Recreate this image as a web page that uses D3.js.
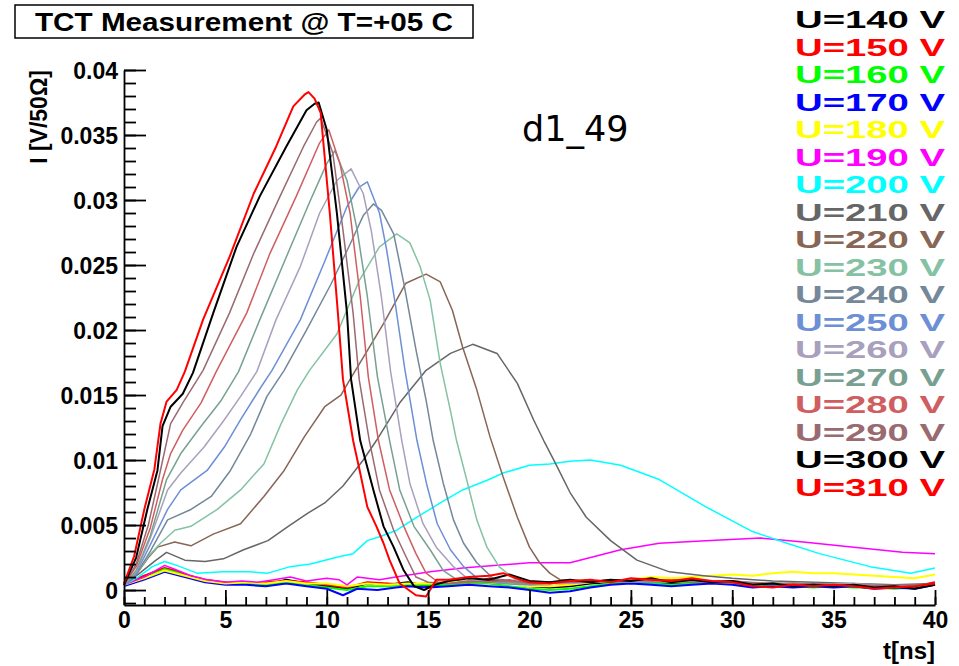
<!DOCTYPE html>
<html>
<head>
<meta charset="utf-8">
<title>TCT Measurement</title>
<script src="https://d3js.org/d3.v7.min.js"></script>
<style>
body { margin: 0; background: #fff; }
svg text { font-family: "Liberation Sans", Arial, sans-serif; font-weight: bold; }
.tick text { font-size: 23px; }
</style>
</head>
<body>
<svg id="chart" width="959" height="666"></svg>
<script>
// voltage scan, one waveform per bias voltage
const voltages = [140, 150, 160, 170, 180, 190, 200, 210, 220, 230, 240, 250, 260, 270, 280, 290, 300, 310];
const colors = ["#000000", "#ff0000", "#00ff00", "#0000ff", "#ffff00", "#ff00ff", "#00ffff", "#666666", "#876656",
  "#85c2a3", "#74889a", "#6d8fd6", "#a9a0bd", "#78a091", "#cf5e61", "#9a6a71", "#000000", "#ff0000"];

// [t (ns), I (V/50 Ohm)]
const u140 = [[0,0.0004],[0.5,0.0007],[1,0.0010],[1.5,0.0014],[2,0.0016],[2.5,0.0014],[3,0.0011],[3.5,0.0009],[4,0.0007],[5,0.0005],[6,0.0006],[7,0.0004],[8,0.0008],[9,0.0005],[10,0.0003],[11,0.0001],[12,0.0005],[13,0.0004],[14,0.0006],[15,0.0003],[16,0.0005],[17,0.0006],[18,0.0008],[19,0.0006],[20,0.0003],[21,0.0002],[22,0.0003],[23,0.0005],[24,0.0006],[25,0.0007],[26,0.0006],[27,0.0005],[28,0.0006],[29,0.0007],[30,0.0006],[31,0.0004],[32,0.0005],[33,0.0004],[34,0.0003],[35,0.0004],[36,0.0003],[37,0.0002],[38,0.0003],[39,0.0002],[40,0.0005]];
const u150 = [[0,0.0005],[1,0.0011],[2,0.0017],[2.5,0.0015],[3,0.0012],[4,0.0008],[5,0.0006],[6,0.0005],[7,0.0006],[8,0.0007],[9,0.0006],[10,0.0004],[11,0.0002],[12,0.0006],[13,0.0005],[14,0.0004],[15,0.0005],[16,0.0006],[17,0.0005],[18,0.0009],[19,0.0007],[20,0.0004],[21,0.0003],[22,0.0004],[23,0.0006],[24,0.0007],[25,0.0006],[26,0.0007],[27,0.0008],[28,0.0006],[29,0.0006],[30,0.0007],[31,0.0005],[32,0.0004],[33,0.0005],[34,0.0004],[35,0.0003],[36,0.0004],[37,0.0003],[38,0.0002],[39,0.0003],[40,0.0006]];
const u160 = [[0,0.0004],[1,0.0009],[2,0.0016],[2.5,0.0014],[3,0.0011],[4,0.0007],[5,0.0005],[6,0.0005],[7,0.0004],[8,0.0006],[9,0.0004],[10,0.0002],[11,0.0000],[12,0.0003],[13,0.0003],[14,0.0004],[15,0.0004],[16,0.0004],[17,0.0005],[18,0.0005],[19,0.0003],[20,0.0001],[21,0.0000],[22,0.0001],[23,0.0003],[24,0.0005],[25,0.0006],[26,0.0005],[27,0.0004],[28,0.0005],[29,0.0006],[30,0.0005],[31,0.0003],[32,0.0003],[33,0.0003],[34,0.0002],[35,0.0003],[36,0.0002],[37,0.0002],[38,0.0001],[39,0.0002],[40,0.0004]];
const u170 = [[0,0.0003],[1,0.0008],[2,0.0014],[3,0.0010],[4,0.0006],[5,0.0004],[6,0.0004],[7,0.0003],[8,0.0005],[9,0.0003],[10,0.0001],[10.8,-0.0004],[11.5,0.0001],[12.5,0.0000],[13.4,0.0002],[14,0.0003],[15,0.0002],[16,0.0003],[17,0.0004],[18,0.0003],[19,0.0002],[20,0.0000],[21,-0.0002],[22,-0.0001],[23,0.0002],[24,0.0004],[25,0.0005],[26,0.0004],[27,0.0003],[28,0.0004],[29,0.0005],[30,0.0004],[31,0.0002],[32,0.0003],[33,0.0002],[34,0.0003],[35,0.0002],[36,0.0003],[37,0.0001],[38,0.0002],[39,0.0001],[40,0.0004]];
const u180 = [[0,0.0004],[1,0.0009],[2,0.0015],[3,0.0011],[4,0.0007],[5,0.0005],[6,0.0006],[7,0.0005],[8,0.0007],[9,0.0005],[10,0.0005],[11,0.0003],[12,0.0005],[13,0.0004],[14,0.0005],[15,0.0005],[16,0.0006],[17,0.0007],[18,0.0006],[19,0.0005],[20,0.0003],[21,0.0003],[22,0.0004],[23,0.0006],[24,0.0007],[25,0.0008],[26,0.0010],[27,0.0009],[28,0.0010],[29,0.0011],[30,0.0012],[31,0.0011],[32,0.0013],[33,0.0014],[34,0.0013],[35,0.0013],[36,0.0012],[37,0.0011],[38,0.0010],[39,0.0009],[40,0.0012]];
const u190 = [[0,0.0004],[1,0.0010],[2,0.0019],[2.5,0.0016],[3.3,0.0011],[4.1,0.0008],[5,0.0006],[5.8,0.0007],[6.6,0.0006],[7.4,0.0008],[8.2,0.0010],[9,0.0007],[10,0.0009],[10.6,0.0008],[11,0.0004],[11.5,0.0010],[12.6,0.0008],[13.4,0.0010],[15.1,0.0014],[16.7,0.0017],[18.4,0.0019],[20,0.0021],[22,0.0021],[24.5,0.0031],[26.4,0.0036],[28.7,0.0038],[31.4,0.0040],[33.5,0.0037],[36,0.0033],[38.4,0.0029],[40,0.0028]];
const u200 = [[0,0.0004],[0.7,0.0010],[1.4,0.0018],[2,0.0022],[2.6,0.0019],[3.6,0.0013],[4.9,0.0014],[6.2,0.0014],[7.1,0.0013],[8.2,0.0018],[9.2,0.0020],[10.2,0.0024],[10.7,0.0026],[11.3,0.0028],[12,0.0038],[12.6,0.0041],[13.45,0.0046],[14.45,0.0056],[15.6,0.0067],[16.7,0.0077],[18,0.0085],[18.7,0.0090],[20,0.0096],[21,0.0097],[22,0.0099],[23,0.0100],[24.5,0.0096],[26.4,0.0085],[28.7,0.0064],[31,0.0045],[32.7,0.0036],[34.3,0.0028],[36.8,0.0018],[38.8,0.0013],[40,0.0017]];
const u210 = [[0,0.0004],[0.7,0.0012],[1.5,0.0022],[2.1,0.0029],[3,0.0023],[4,0.0022],[4.9,0.0024],[5.9,0.0031],[7.1,0.0038],[8.1,0.0049],[9.05,0.0059],[9.9,0.0067],[10.8,0.0080],[11.15,0.0087],[11.8,0.0100],[12.45,0.0115],[13.6,0.0144],[14.9,0.0169],[16.1,0.0182],[17.2,0.0189],[18.4,0.0182],[19.4,0.0159],[20.2,0.0131],[20.7,0.0115],[21.2,0.0100],[22,0.0075],[22.8,0.0056],[24,0.0038],[25.3,0.0023],[26.9,0.0014],[28.6,0.0011],[30,0.0009],[32,0.0007],[34,0.0006],[36,0.0005],[38,0.0004],[40,0.0005]];
const u220 = [[0,0.0004],[0.6,0.0012],[1.2,0.0025],[1.65,0.0033],[2.5,0.0037],[3.3,0.0034],[4.4,0.0043],[5.75,0.0051],[6.9,0.0072],[7.9,0.0092],[8.9,0.0118],[9.9,0.0141],[10.7,0.0150],[11.15,0.0162],[12.8,0.0205],[13.9,0.0236],[14.9,0.0243],[15.6,0.0237],[16.2,0.0215],[16.7,0.0187],[17.4,0.0154],[18.05,0.0118],[18.7,0.0087],[19.4,0.0056],[20,0.0033],[20.5,0.0021],[21,0.0013],[21.5,0.0008],[23,0.0006],[25,0.0007],[27,0.0006],[29,0.0007],[31,0.0005],[33,0.0005],[35,0.0004],[37,0.0003],[40,0.0004]];
const u230 = [[0,0.0004],[0.6,0.0012],[1.2,0.0026],[1.8,0.0036],[2.5,0.0046],[3.3,0.0049],[4.6,0.0062],[5.75,0.0077],[6.9,0.0097],[7.75,0.0128],[8.55,0.0154],[9.15,0.0169],[10.5,0.0197],[11.6,0.0238],[12.6,0.0264],[13.45,0.0274],[14.1,0.0267],[14.6,0.0249],[15.1,0.0223],[15.6,0.0174],[16.1,0.0138],[16.4,0.0115],[16.9,0.0085],[17.4,0.0054],[17.9,0.0033],[18.5,0.0018],[19.3,0.0008],[21,0.0005],[23,0.0006],[25,0.0007],[27,0.0006],[29,0.0007],[31,0.0005],[33,0.0004],[35,0.0004],[37,0.0003],[40,0.0004]];
const u240 = [[0,0.0004],[0.6,0.0012],[1.3,0.0030],[2.15,0.0054],[3.3,0.0062],[4.3,0.0072],[5.25,0.0092],[6.25,0.0120],[7.05,0.0149],[7.9,0.0169],[9,0.0200],[10.2,0.0235],[11.15,0.0266],[11.8,0.0288],[12.3,0.0297],[12.7,0.0292],[13.3,0.0274],[13.8,0.0236],[14.4,0.0185],[14.9,0.0146],[15.25,0.0115],[15.75,0.0082],[16.25,0.0054],[16.75,0.0036],[17.4,0.0021],[18.2,0.0009],[19.5,0.0005],[21,0.0006],[23,0.0007],[25,0.0006],[27,0.0007],[29,0.0006],[31,0.0005],[33,0.0005],[35,0.0004],[37,0.0003],[40,0.0004]];
const u250 = [[0,0.0004],[0.6,0.0013],[1.3,0.0035],[2.15,0.0062],[2.8,0.0077],[4.1,0.0092],[4.95,0.0110],[5.75,0.0131],[6.75,0.0156],[7.3,0.0169],[8.7,0.0208],[9.85,0.0251],[11,0.0295],[11.6,0.0310],[12,0.0314],[12.6,0.0290],[12.95,0.0262],[13.4,0.0218],[13.85,0.0170],[14.45,0.0115],[14.95,0.0080],[15.45,0.0051],[16.1,0.0031],[16.75,0.0018],[17.5,0.0008],[18.5,0.0005],[20,0.0004],[22,0.0006],[24,0.0007],[26,0.0006],[28,0.0007],[30,0.0006],[32,0.0004],[34,0.0005],[36,0.0004],[38,0.0003],[40,0.0004]];
const u260 = [[0,0.0004],[0.6,0.0014],[1.3,0.0040],[2.15,0.0077],[2.8,0.0090],[3.95,0.0110],[4.95,0.0131],[5.75,0.0149],[6.55,0.0168],[7.5,0.0208],[8.7,0.0249],[9.65,0.0290],[10.5,0.0315],[11.2,0.0324],[11.8,0.0305],[12.2,0.0276],[12.7,0.0225],[13.15,0.0168],[13.7,0.0115],[14.1,0.0082],[14.75,0.0051],[15.4,0.0033],[16.25,0.0018],[17,0.0008],[18,0.0006],[20,0.0006],[22,0.0005],[24,0.0007],[26,0.0007],[28,0.0006],[30,0.0007],[32,0.0005],[34,0.0004],[36,0.0005],[38,0.0003],[40,0.0004]];
const u270 = [[0,0.0004],[0.6,0.0015],[1.3,0.0042],[2.1,0.0085],[2.8,0.0105],[3.8,0.0126],[4.8,0.0146],[5.65,0.0168],[6.7,0.0208],[8,0.0256],[9.2,0.0300],[10,0.0328],[10.4,0.0338],[11,0.0315],[11.5,0.0277],[12,0.0226],[12.5,0.0164],[13.1,0.0115],[13.6,0.0077],[14.3,0.0049],[15.1,0.0031],[15.75,0.0015],[16.5,0.0007],[18,0.0006],[20,0.0005],[22,0.0007],[24,0.0006],[26,0.0008],[28,0.0007],[30,0.0006],[32,0.0005],[34,0.0005],[36,0.0004],[38,0.0003],[40,0.0004]];
const u280 = [[0,0.0004],[0.6,0.0018],[1.3,0.0048],[1.9,0.0085],[2.3,0.0105],[2.9,0.0123],[3.8,0.0144],[4.55,0.0168],[6.05,0.0213],[7.2,0.0259],[8.5,0.0303],[9.65,0.0344],[10.1,0.0354],[10.65,0.0328],[11.15,0.0290],[11.65,0.0226],[12.05,0.0164],[12.55,0.0115],[13.1,0.0077],[13.8,0.0049],[14.4,0.0028],[14.9,0.0013],[15.5,0.0006],[16,0.0005],[18,0.0007],[20,0.0006],[22,0.0006],[24,0.0008],[26,0.0007],[28,0.0008],[30,0.0006],[32,0.0005],[34,0.0004],[36,0.0004],[38,0.0003],[40,0.0004]];
const u290 = [[0,0.0004],[0.6,0.0020],[1.2,0.0050],[1.7,0.0085],[2.3,0.0128],[2.9,0.0144],[3.9,0.0169],[5.2,0.0213],[6.4,0.0259],[7.7,0.0303],[8.85,0.0341],[9.5,0.0360],[9.7,0.0363],[10.3,0.0336],[10.8,0.0277],[11.3,0.0213],[11.6,0.0162],[12.1,0.0115],[12.6,0.0077],[13.3,0.0046],[13.9,0.0026],[14.4,0.0010],[15,0.0006],[16,0.0005],[17,0.0007],[18,0.0006],[19,0.0008],[20,0.0005],[22,0.0006],[24,0.0007],[26,0.0008],[28,0.0006],[30,0.0007],[32,0.0004],[34,0.0005],[36,0.0003],[38,0.0004],[40,0.0004]];
const u300 = [[0,0.0004],[0.6,0.0025],[1.15,0.0062],[1.65,0.0092],[1.9,0.0126],[2.3,0.0141],[2.9,0.0151],[3.4,0.0167],[4.4,0.0213],[5.55,0.0264],[6.7,0.0303],[8,0.0341],[9,0.0369],[9.4,0.0374],[9.6,0.0375],[10,0.0354],[10.5,0.0290],[11,0.0213],[11.2,0.0162],[11.65,0.0115],[12.3,0.0077],[12.8,0.0049],[13.3,0.0033],[13.8,0.0015],[14.3,0.0003],[14.8,0.0000],[15.3,0.0004],[16,0.0007],[17,0.0009],[18,0.0008],[19,0.0012],[20,0.0007],[21,0.0006],[22,0.0008],[23,0.0006],[24,0.0008],[25,0.0007],[26,0.0009],[27,0.0006],[28,0.0008],[29,0.0006],[30,0.0007],[31,0.0004],[32,0.0005],[33,0.0003],[34,0.0004],[35,0.0003],[36,0.0004],[37,0.0002],[38,0.0003],[39,0.0001],[40,0.0004]];
const u310 = [[0,0.0005],[0.5,0.0026],[1,0.0062],[1.5,0.0093],[1.8,0.0128],[2.1,0.0145],[2.6,0.0154],[3,0.0168],[3.9,0.0208],[5.2,0.0256],[6.4,0.0305],[7.5,0.0341],[8.35,0.0372],[8.9,0.0381],[9.1,0.0383],[9.4,0.0378],[9.7,0.0367],[10.15,0.0290],[10.55,0.0213],[10.8,0.0162],[11.3,0.0115],[11.65,0.0090],[12,0.0064],[12.45,0.0049],[12.8,0.0036],[13.1,0.0023],[13.6,0.0005],[14.4,-0.0004],[14.9,-0.0005],[15.4,0.0008],[16,0.0008],[17,0.0010],[18,0.0011],[18.7,0.0013],[19.5,0.0008],[20,0.0006],[21,0.0005],[22,0.0007],[23,0.0008],[24,0.0006],[25,0.0009],[26,0.0008],[27,0.0007],[28,0.0009],[29,0.0007],[30,0.0006],[31,0.0003],[32,0.0002],[33,0.0004],[34,0.0003],[35,0.0004],[36,0.0003],[37,0.0001],[38,0.0002],[39,0.0003],[40,0.0005]];
const series = [u140, u150, u160, u170, u180, u190, u200, u210, u220, u230, u240, u250, u260, u270, u280, u290, u300, u310];

const xMajor = [0, 5, 10, 15, 20, 25, 30, 35, 40];
const yMajor = [0, 0.005, 0.01, 0.015, 0.02, 0.025, 0.03, 0.035, 0.04];

const svg = d3.select("#chart");
const x = d3.scaleLinear().domain([0, 40]).range([124, 935]);
const y = d3.scaleLinear().domain([-0.00115, 0.04]).range([605, 70]);

// title box
svg.append("rect").attr("x", 15).attr("y", 5).attr("width", 458).attr("height", 33)
  .attr("fill", "#fff").attr("stroke", "#000").attr("stroke-width", 1.5);
svg.append("text").attr("x", 244).attr("y", 31).attr("text-anchor", "middle")
  .attr("textLength", 418).attr("lengthAdjust", "spacingAndGlyphs")
  .style("font-size", "25px").text("TCT Measurement @ T=+05 C");

// curves
const line = d3.line().x(d => x(d[0])).y(d => y(d[1]));
svg.append("g").selectAll("path").data(series).join("path")
  .attr("d", line)
  .attr("fill", "none")
  .attr("stroke", (d, i) => colors[i])
  .attr("stroke-width", (d, i) => (voltages[i] >= 300 || voltages[i] <= 180) ? 2 : 1.5)
  .attr("stroke-linejoin", "round");

// axes, ticks pointing inward as in ROOT
const yAxis = svg.append("g").attr("transform", "translate(124,0)")
  .call(d3.axisLeft(y).tickValues(yMajor).tickSizeInner(-22).tickSizeOuter(0).tickPadding(6)
    .tickFormat(d => d === 0 ? "0" : String(+d.toFixed(3))));
svg.append("g").attr("transform", "translate(124,0)")
  .call(d3.axisLeft(y).tickValues(d3.range(-1, 41).map(k => k / 1000)).tickSize(-12).tickFormat(""))
  .call(g => g.select(".domain").remove());
const xAxis = svg.append("g").attr("transform", "translate(0,605)")
  .call(d3.axisBottom(x).tickValues(xMajor).tickSizeInner(-15).tickSizeOuter(0).tickPadding(7));
svg.append("g").attr("transform", "translate(0,605)")
  .call(d3.axisBottom(x).tickValues(d3.range(0, 41)).tickSize(-8).tickFormat(""))
  .call(g => g.select(".domain").remove());
svg.selectAll(".domain, .tick line").attr("stroke", "#000").attr("stroke-width", 1.8);
svg.selectAll(".tick text").attr("fill", "#000");
yAxis.selectAll(".tick text").attr("dy", "0.36em");

// axis titles
svg.append("text").attr("transform", "translate(47,70) rotate(-90)").attr("text-anchor", "end")
  .style("font-size", "23px").text("I [V/50\u03A9]");
svg.append("text").attr("x", 935).attr("y", 659).attr("text-anchor", "end")
  .style("font-size", "24px").text("t[ns]");

// sample label
svg.append("text").attr("x", 522).attr("y", 141)
  .style("font-family", "'DejaVu Sans', sans-serif").style("font-weight", "normal")
  .style("font-size", "35px").text("d1_49");

// legend
svg.append("g").selectAll("text").data(voltages).join("text")
  .attr("x", 795).attr("y", (d, i) => 28 + i * 27.5)
  .attr("fill", (d, i) => colors[i])
  .attr("textLength", 150).attr("lengthAdjust", "spacingAndGlyphs")
  .style("font-size", "24px")
  .text(d => "U=" + d + " V");
</script>
</body>
</html>
